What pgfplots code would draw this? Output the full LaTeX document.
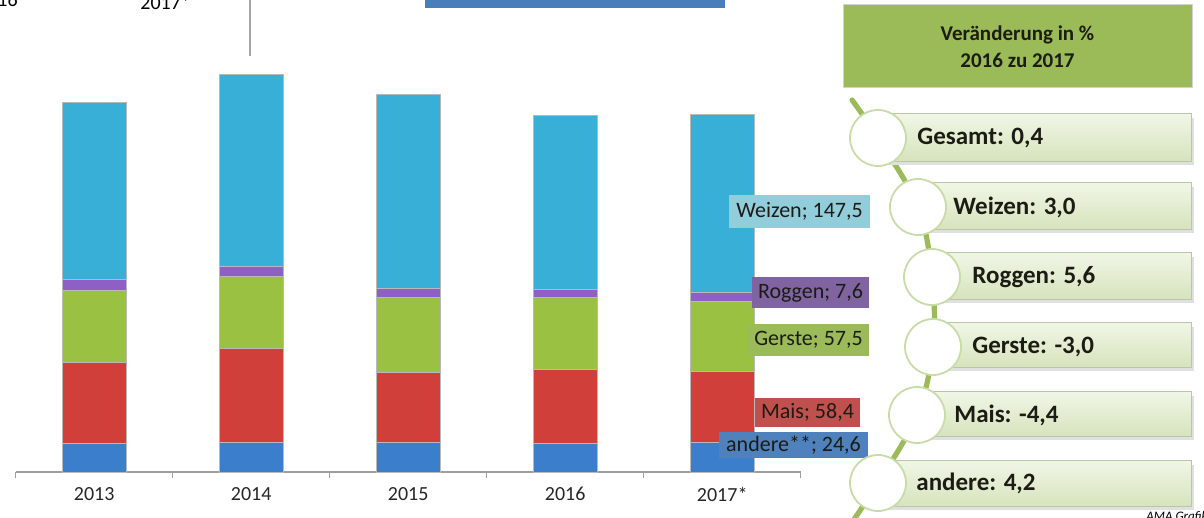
\documentclass[border=0pt]{standalone}
\usepackage{pgfplots}
\pgfplotsset{compat=1.18}
\usepackage{fontspec}
\setmainfont{Carlito}

\definecolor{cAndere}{RGB}{58,126,204}
\definecolor{cMais}{RGB}{208,63,57}
\definecolor{cGerste}{RGB}{154,193,66}
\definecolor{cRoggen}{RGB}{142,96,197}
\definecolor{cWeizen}{RGB}{56,175,214}
\definecolor{lbAndere}{RGB}{79,129,189}
\definecolor{lbMais}{RGB}{192,80,77}
\definecolor{lbGerste}{RGB}{155,187,89}
\definecolor{lbRoggen}{RGB}{128,100,162}
\definecolor{lbWeizen}{RGB}{146,205,220}
\definecolor{olive}{RGB}{155,187,89}
\definecolor{itemtop}{RGB}{240,246,230}
\definecolor{itembot}{RGB}{214,227,188}
\definecolor{itemline}{RGB}{185,198,168}
\definecolor{ringcol}{RGB}{200,220,168}
\definecolor{txtdark}{RGB}{28,28,20}
\definecolor{topblue}{RGB}{74,126,187}

\begin{document}
% picture units are pixels of the reference, y measured from the bottom
\begin{tikzpicture}[x=0.5pt,y=0.5pt]
\clip (0,0) rectangle (1204,518);
\useasboundingbox (0,0) rectangle (1204,518);

% remnants at the top edge
\fill[topblue] (425,510) rectangle (725,518);
\draw[gray!70,line width=0.6pt] (250,518) -- (250,462);
\node[anchor=south west,inner sep=0pt,font=\fontsize{10}{12}\selectfont] at (-3,511) {16};
\node[anchor=south west,inner sep=0pt,font=\fontsize{10}{12}\selectfont] at (140,508) {2017*};

\begin{axis}[
  at={(10,38)}, anchor=south west,
  scale only axis,
  width=392.5pt, height=235pt,
  xmin=-0.5, xmax=4.5,
  ymin=0, ymax=388.4,
  ybar stacked,
  bar width=32pt,
  axis x line*=bottom,
  axis y line=none,
  axis line style={gray!75,line width=0.6pt},
  xtick={0,1,2,3,4},
  xticklabels={2013,2014,2015,2016,2017*},
  major tick length=0pt,
  minor xtick={-0.5,0.5,1.5,2.5,3.5,4.5},
  minor tick length=3pt,
  tick align=outside,
  minor tick style={gray!75,line width=0.6pt},
  xticklabel style={font=\fontsize{10}{12}\selectfont,text=black!85,yshift=-4pt},
  clip=false,
  every axis plot/.append style={draw=gray!55,line width=0.5pt},
]
\addplot[fill=cAndere] coordinates
  {(0,23.4) (1,24.0) (2,24.0) (3,23.6) (4,24.6)};
\addplot[fill=cMais] coordinates
  {(0,66.7) (1,77.9) (2,58.6) (3,61.1) (4,58.4)};
\addplot[fill=cGerste] coordinates
  {(0,60.1) (1,59.8) (2,61.4) (3,59.3) (4,57.5)};
\addplot[fill=cRoggen] coordinates
  {(0,9.3) (1,8.5) (2,7.5) (3,7.2) (4,7.6)};
\addplot[fill=cWeizen] coordinates
  {(0,145.5) (1,158.1) (2,160.6) (3,143.2) (4,147.5)};
\end{axis}

% data labels of the 2017 bar
\tikzset{dl/.style={anchor=center,inner sep=0pt,text=txtdark,font=\fontsize{11}{13}\selectfont}}
\fill[lbWeizen] (729,290) rectangle (870,323);
\node[dl] at (799.5,306.5) {Weizen; 147,5};
\fill[lbRoggen] (752,210) rectangle (869,241);
\node[dl] at (810.5,225.5) {Roggen; 7,6};
\fill[lbGerste] (748,162) rectangle (869,194);
\node[dl] at (808.5,178) {Gerste; 57,5};
\fill[lbMais] (755,91) rectangle (860,120);
\node[dl] at (807.5,105.5) {Mais; 58,4};
\fill[lbAndere] (719,60) rectangle (868,86);
\node[dl] at (793.5,73) {andere**; 24,6};

% change panel
\fill[olive] (843,430) rectangle (1192,513);
\draw[gray!35,line width=0.5pt] (843,430) rectangle (1192,513);
\node[align=center,inner sep=0pt,text=txtdark,font=\bfseries\fontsize{10.5}{13.5}\selectfont]
  at (1017.5,471) {Veränderung in \%\\2016 zu 2017};

\draw[olive,line width=2.6pt,line cap=round] plot[smooth,tension=0.6] coordinates
  {(852,418) (878,380) (918,311) (932,241) (933,171) (917,103) (878,35) (848,-10)};

\tikzset{item/.style={top color=itemtop,bottom color=itembot,draw=itemline,line width=0.5pt},
  shad/.style={fill=black!12},
  ring/.style={fill=white,draw=ringcol,line width=0.9pt},
  itxt/.style={anchor=west,inner sep=0pt,text=txtdark,font=\bfseries\fontsize{12.5}{15}\selectfont}}
% Gesamt
\fill[shad] (882,353) rectangle (1194,400);
\path[item] (878,356) rectangle (1191,404);
\path[ring] (878,380) circle (28);
\node[itxt] at (917,380) {Gesamt: 0,4};
% Weizen
\fill[shad] (922,285) rectangle (1194,331);
\path[item] (918,288) rectangle (1191,335);
\path[ring] (918,311) circle (28);
\node[itxt] at (953,311) {Weizen: 3,0};
% Roggen
\fill[shad] (936,215) rectangle (1194,261);
\path[item] (932,218) rectangle (1191,265);
\path[ring] (932,241) circle (28);
\node[itxt] at (972,241) {Roggen: 5,6};
% Gerste
\fill[shad] (937,147) rectangle (1194,191);
\path[item] (933,150) rectangle (1191,195);
\path[ring] (933,171) circle (28);
\node[itxt] at (972,171) {Gerste: -3,0};
% Mais
\fill[shad] (921,78) rectangle (1194,122);
\path[item] (917,81) rectangle (1191,126);
\path[ring] (917,103) circle (28);
\node[itxt] at (954,103) {Mais: -4,4};
% andere
\fill[shad] (882,8) rectangle (1194,53);
\path[item] (878,11) rectangle (1191,57);
\path[ring] (878,35) circle (28);
\node[itxt] at (916,35) {andere: 4,2};

\node[anchor=north west,inner sep=0pt,font=\itshape\fontsize{6.5}{8}\selectfont] at (1146,7) {AMA Grafik};
\end{tikzpicture}
\end{document}
